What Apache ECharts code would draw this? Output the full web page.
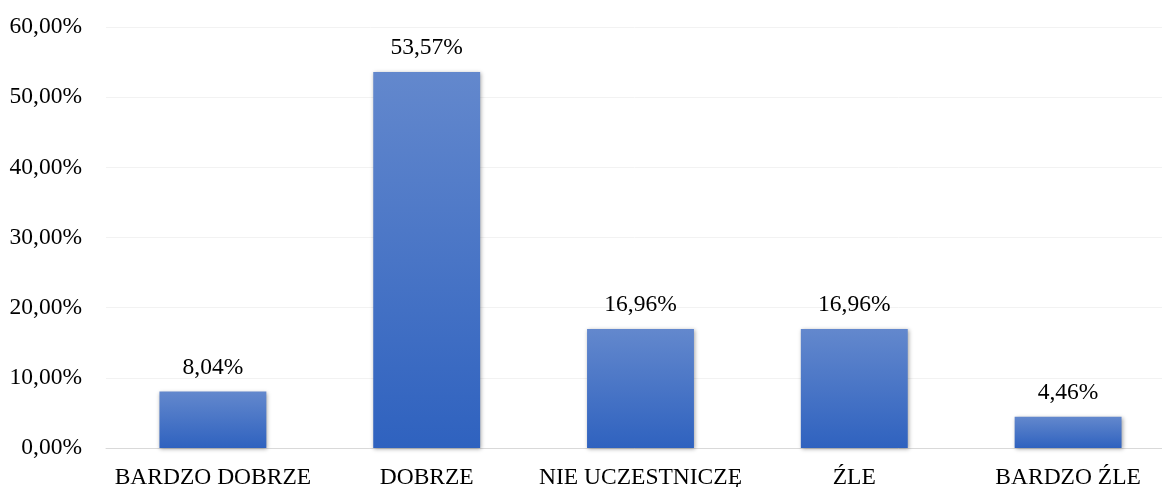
<!DOCTYPE html>
<html>
<head>
<meta charset="utf-8">
<script src="https://cdn.jsdelivr.net/npm/echarts@6/dist/echarts.min.js"></script>
<style>
  html, body { margin: 0; padding: 0; background: #fff; }
  #chart { width: 1162px; height: 487px; }
</style>
</head>
<body>
<div id="chart"></div>
<script>
const categories = ['BARDZO DOBRZE', 'DOBRZE', 'NIE UCZESTNICZĘ', 'ŹLE', 'BARDZO ŹLE']
const values = [8.04, 53.57, 16.96, 16.96, 4.46]

const fmt = v => v.toFixed(2).replace('.', ',') + '%'
const font = 'Liberation Serif'

const chart = echarts.init(document.getElementById('chart'))
chart.setOption({
  animation: false,
  textStyle: { fontFamily: font },
  // plot area runs past the right edge, like the cropped original
  grid: { left: 106, width: 1069, top: 27, height: 421, outerBoundsMode: 'none', containLabel: false },
  xAxis: {
    type: 'category',
    data: categories,
    axisTick: { show: false },
    axisLine: { lineStyle: { color: '#d9d9d9', width: 1 } },
    axisLabel: { interval: 0, fontFamily: font, fontSize: 23.5, color: '#000', margin: 18, hideOverlap: false },
  },
  yAxis: {
    type: 'value',
    min: 0,
    max: 60,
    interval: 10,
    axisLabel: { fontFamily: font, fontSize: 23.5, color: '#000', margin: 24, formatter: fmt },
    splitLine: { lineStyle: { color: '#f2f2f2' } },
  },
  series: [
    {
      type: 'bar',
      data: values,
      barWidth: '50%',
      itemStyle: {
        color: new echarts.graphic.LinearGradient(0, 0, 0, 1, [
          { offset: 0, color: '#6388cd' },
          { offset: 1, color: '#2f62bf' },
        ]),
        shadowBlur: 4,
        shadowColor: 'rgba(0,0,0,0.35)',
        shadowOffsetX: 1,
        shadowOffsetY: 1,
      },
      label: {
        show: true,
        position: 'top',
        distance: 12,
        fontFamily: font,
        fontSize: 23.5,
        color: '#000',
        formatter: p => fmt(p.value),
      },
    }
  ],
})
</script>
</body>
</html>
